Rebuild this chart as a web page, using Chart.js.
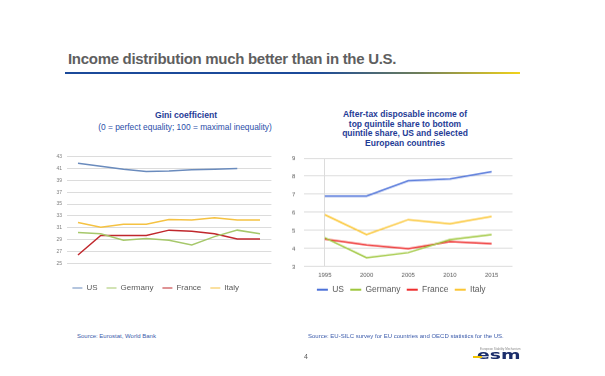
<!DOCTYPE html>
<html>
<head>
<meta charset="utf-8">
<script src="https://cdn.jsdelivr.net/npm/chart.js@4/dist/chart.umd.min.js"></script>
<style>
    body { margin: 0; background: #ffffff; }
    #page { position: relative; width: 605px; height: 376px; overflow: hidden; font-family: 'Liberation Sans', Arial, sans-serif; }
    .abs { position: absolute; white-space: nowrap; }
    .ctitle { color: #1f3c96; font-weight: bold; text-align: center; }
    .src { color: #3b5bab; font-size: 6px; line-height: 8px; }
    canvas { position: absolute; }
</style>
</head>
<body>
<div id="page">
    <div class="abs" style="left:68px; top:50.5px; font-size:15px; line-height:15px; font-weight:bold; letter-spacing:-0.3px; color:#5f5f5f;">Income distribution much better than in the U.S.</div>
    <div class="abs" style="left:65px; top:72px; width:455px; height:2px; background:linear-gradient(to right, #1b4a9a 0%, #1b4a9a 55%, #6f7f5a 78%, #f2d31b 100%);"></div>

    <div class="abs ctitle" style="left:86px; width:200px; top:109.5px; font-size:8.6px; line-height:11px;">Gini coefficient</div>
    <div class="abs ctitle" style="left:85px; width:200px; top:121.5px; font-size:8.4px; line-height:11px; font-weight:normal; color:#2a4ea8;">(0 = perfect equality; 100 = maximal inequality)</div>

    <div class="abs ctitle" style="left:305px; width:200px; top:110px; font-size:8.5px; line-height:9.7px; white-space:normal;">After-tax disposable income of<br>top quintile share to bottom<br>quintile share, US and selected<br>European countries</div>

    <canvas id="gini"></canvas>
    <canvas id="quintile"></canvas>

    <div class="abs src" style="left:77px; top:332px;">Source: Eurostat, World Bank</div>
    <div class="abs src" style="left:308px; top:332px;">Source: EU-SILC survey for EU countries and OECD statistics for the US.</div>
    <div class="abs" style="left:304px; top:353px; font-size:7px; line-height:8px; color:#595959;">4</div>

    <!-- esm logo, as text -->
    <div class="abs" style="left:480px; top:347.5px; font-size:3px; line-height:3px; color:#8a8a8a;">European Stability Mechanism</div>
    <div class="abs" style="left:477px; top:349.4px; font-size:12.5px; line-height:12.5px; font-weight:bold; color:#1b2e6b; font-family:'DejaVu Sans', sans-serif; transform:scaleX(1.5); transform-origin:left top;">esm</div>
    <div class="abs" style="left:473px; top:356px; width:9px; height:1.5px; background:#f2c400;"></div>
</div>

<script>
// Gini coefficient, 2007-2015
const giniYears = ['2007', '2008', '2009', '2010', '2011', '2012', '2013', '2014', '2015'];
const giniUS = [41.9, 41.4, 40.9, 40.5, 40.6, 40.8, 40.9, 41.0, null];
const giniGermany = [30.2, 30.0, 28.9, 29.2, 28.9, 28.1, 29.5, 30.6, 30.0];
const giniFrance = [26.4, 29.7, 29.7, 29.7, 30.6, 30.4, 30.0, 29.1, 29.1];
const giniItaly = [31.9, 31.1, 31.6, 31.6, 32.4, 32.3, 32.7, 32.3, 32.3];

// top quintile / bottom quintile ratio
const ratioYears = ['1995', '2000', '2005', '2010', '2015'];
const ratioUS = [6.9, 6.9, 7.75, 7.85, 8.25];
const ratioGermany = [4.6, 3.5, 3.78, 4.5, 4.78];
const ratioFrance = [4.52, 4.2, 4.0, 4.39, 4.28];
const ratioItaly = [5.87, 4.78, 5.6, 5.37, 5.78];

const countries = ['US', 'Germany', 'France', 'Italy'];
const giniColors = ['#6a8bbd', '#a6c86b', '#c0282d', '#f5c242'];
const ratioColors = ['#4a6fd8', '#9dc63a', '#ee2b2b', '#fbc531'];

const gridGrey = '#dcdcdc';
const font = "'Liberation Sans', Arial, sans-serif";

function setCanvas(id, left, top, w, h) {
    const c = document.getElementById(id);
    c.style.left = left + 'px';
    c.style.top = top + 'px';
    c.style.width = w + 'px';
    c.style.height = h + 'px';
    c.width = w;
    c.height = h;
    return c;
}

// flat legend lines instead of boxes
function flatLabels(chart) {
    return Chart.defaults.plugins.legend.labels.generateLabels(chart).map((l) => ({
        ...l,
        fillStyle: l.strokeStyle,
        lineWidth: 0,
    }));
}

function makeSets(series, colors) {
    return series.map((d, i) => ({
        label: countries[i],
        data: d,
        borderColor: colors[i],
        backgroundColor: colors[i],
        borderWidth: 1.5,
        pointRadius: 0,
        tension: 0,
        spanGaps: false,
    }));
}

/* Left chart: Gini coefficient */
new Chart(setCanvas('gini', 40, 140, 260, 162), {
    type: 'line',
    data: {
        labels: giniYears,
        datasets: makeSets([giniUS, giniGermany, giniFrance, giniItaly], giniColors),
    },
    options: {
        responsive: false,
        animation: false,
        layout: { padding: { top: 16.7, right: 28.6, left: 0, bottom: 0 } },
        scales: {
            x: {
                offset: true,
                afterFit: (s) => { s.height = 11.7; },
                border: { display: false },
                grid: { display: false },
                ticks: {
                    autoSkip: false,
                    maxRotation: 0,
                    padding: 4.7,
                    color: '#7f7f7f',
                    font: { family: font, size: 5 },
                },
            },
            y: {
                min: 25,
                max: 43,
                afterFit: (s) => { s.width = 26.6; },
                border: { display: false },
                grid: { color: gridGrey, drawTicks: false },
                ticks: {
                    stepSize: 2,
                    padding: 4.6,
                    color: '#7f7f7f',
                    font: { family: font, size: 5 },
                },
            },
        },
        plugins: {
            tooltip: { enabled: false },
            legend: {
                position: 'bottom',
                labels: {
                    boxWidth: 10,
                    boxHeight: 1,
                    padding: 9,
                    color: '#595959',
                    font: { family: font, size: 8 },
                    generateLabels: flatLabels,
                },
            },
        },
    },
});

/* Right chart: quintile share ratio */
new Chart(setCanvas('quintile', 290, 140, 236, 163.5), {
    type: 'line',
    data: {
        labels: ratioYears,
        datasets: makeSets([ratioUS, ratioGermany, ratioFrance, ratioItaly], ratioColors),
    },
    options: {
        responsive: false,
        animation: false,
        layout: { padding: { top: 18, right: 13.5, left: 0, bottom: 0 } },
        scales: {
            x: {
                offset: true,
                afterFit: (s) => { s.height = 12.3; },
                border: { display: false },
                grid: {
                    drawTicks: false,
                    // only the outer frame lines
                    color: (ctx) => (ctx.index === 0 || ctx.index === ratioYears.length ? gridGrey : 'rgba(0,0,0,0)'),
                },
                ticks: {
                    autoSkip: false,
                    maxRotation: 0,
                    padding: 4.9,
                    color: '#595959',
                    font: { family: font, size: 6 },
                },
            },
            y: {
                min: 3,
                max: 9,
                afterFit: (s) => { s.width = 14; },
                border: { display: false },
                grid: { color: gridGrey, drawTicks: false },
                ticks: {
                    stepSize: 1,
                    padding: 8.7,
                    color: '#595959',
                    font: { family: font, size: 6 },
                },
            },
        },
        plugins: {
            tooltip: { enabled: false },
            legend: {
                position: 'bottom',
                labels: {
                    boxWidth: 11,
                    boxHeight: 2,
                    padding: 6.3,
                    color: '#595959',
                    font: { family: font, size: 8.5 },
                    generateLabels: flatLabels,
                },
            },
        },
    },
});
</script>
</body>
</html>
